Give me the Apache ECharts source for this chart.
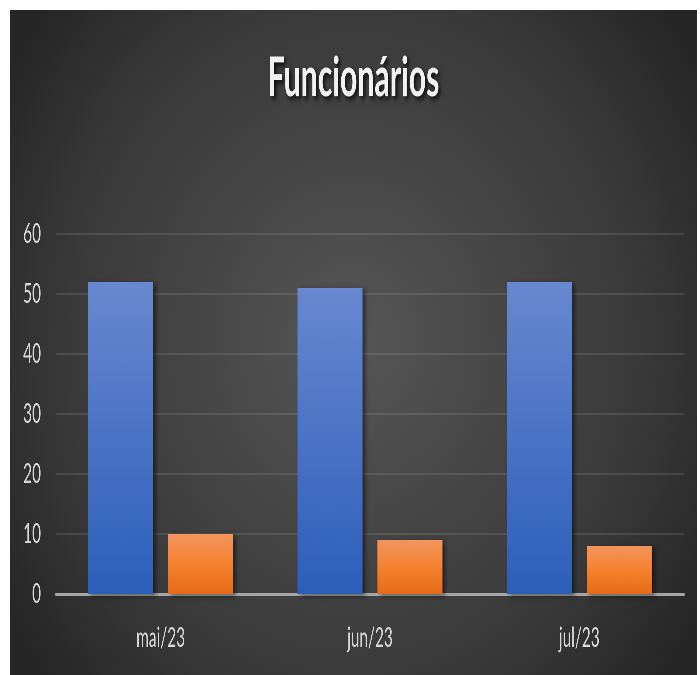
<!DOCTYPE html>
<html>
<head>
<meta charset="utf-8">
<script src="https://cdn.jsdelivr.net/npm/echarts@6/dist/echarts.min.js"></script>
<style>
html,body{margin:0;padding:0;background:#fff;width:700px;height:675px;overflow:hidden;}
#wrap{position:absolute;left:10px;top:10px;width:687px;height:665px;overflow:hidden;
  background:radial-gradient(ellipse 60% 75% at 50% 50%, #565656 0%, #474747 35%, #393939 70%, #262626 100%);}
#c{position:absolute;left:0;top:0;height:665px;transform-origin:0 0;}
</style>
</head>
<body>
<div id="wrap"><div id="c"></div></div>
<script>
const categories = ['mai/23', 'jun/23', 'jul/23'];
const seriesA = [52, 51, 52];
const seriesB = [10, 9, 8];
const yTicks = { min: 0, max: 60, interval: 10 };
const titleText = 'Funcionários';

// The reference uses a tall, narrow (condensed) look; draw wider and squeeze horizontally.
const SX = 0.55;
const el = document.getElementById('c');
el.style.width = (687 / SX) + 'px';
el.style.transform = 'scaleX(' + SX + ')';
const X = v => v / SX;

const FONT = 'Lato, "Open Sans", sans-serif';

const chart = echarts.init(el, null, { renderer: 'canvas', devicePixelRatio: 2 });
chart.setOption({
  backgroundColor: 'transparent',
  animation: false,
  title: {
    text: titleText,
    left: 'center',
    top: 36,
    textStyle: {
      color: '#f2f2f2', fontSize: 55, fontWeight: 'bold', fontFamily: FONT,
      textShadowColor: 'rgba(0,0,0,0.8)', textShadowBlur: 6, textShadowOffsetX: X(2), textShadowOffsetY: 3
    }
  },
  grid: { left: X(46), right: X(13), top: 224, bottom: 81, containLabel: false },
  xAxis: {
    type: 'category',
    data: categories,
    axisLine: { show: true, lineStyle: { color: '#a6a6a6', width: 3 } },
    axisTick: { show: false },
    axisLabel: { color: '#d9d9d9', fontSize: 28, fontFamily: FONT, margin: 30 }
  },
  yAxis: {
    type: 'value',
    min: yTicks.min, max: yTicks.max, interval: yTicks.interval,
    axisLine: { show: false },
    axisTick: { show: false },
    splitLine: { lineStyle: { color: 'rgba(255,255,255,0.1)', width: 2 } },
    axisLabel: { color: '#d9d9d9', fontSize: 28, fontFamily: FONT, margin: X(15) }
  },
  series: [
    {
      type: 'bar', data: seriesA, barWidth: X(65), barGap: '23%',
      itemStyle: {
        color: { type: 'linear', x: 0, y: 0, x2: 0, y2: 1, colorStops: [
          { offset: 0, color: '#6888d0' }, { offset: 1, color: '#2c5fba' } ] },
        shadowColor: 'rgba(0,0,0,0.45)', shadowBlur: 6, shadowOffsetX: X(3), shadowOffsetY: 2
      }
    },
    {
      type: 'bar', data: seriesB, barWidth: X(65), barGap: '23%',
      itemStyle: {
        color: { type: 'linear', x: 0, y: 0, x2: 0, y2: 1, colorStops: [
          { offset: 0, color: '#f39560' }, { offset: 0.5, color: '#f5822e' }, { offset: 1, color: '#e56b18' } ] },
        shadowColor: 'rgba(0,0,0,0.45)', shadowBlur: 6, shadowOffsetX: X(3), shadowOffsetY: 2
      }
    }
  ]
});
</script>
</body>
</html>
